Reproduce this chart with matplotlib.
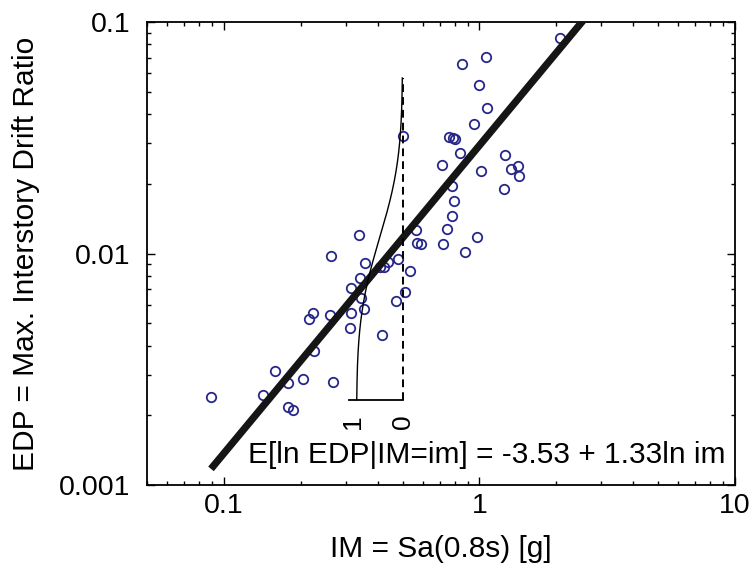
import math
import numpy as np
import matplotlib
matplotlib.use('Agg')
import matplotlib.pyplot as plt
from matplotlib.ticker import FixedLocator, FixedFormatter, LogLocator, NullFormatter

# recorded ground motions: IM (Sa in g) and EDP (max interstory drift)
im_vals = [0.0887, 0.1425, 0.159, 0.1785, 0.178, 0.186, 0.204, 0.268, 0.226, 0.2225,
           0.215, 0.26, 0.313, 0.312, 0.417, 0.262, 0.3385, 0.356, 0.408, 0.423,
           0.44, 0.478, 0.535, 0.564, 0.571, 0.588, 0.341, 0.313, 0.343, 0.353,
           0.513, 0.47, 0.5, 0.718, 0.982, 0.877, 0.744, 0.783, 0.795, 0.784,
           1.251, 1.016, 1.328, 1.419, 1.431, 1.262, 0.715, 0.839, 0.76, 0.79,
           0.802, 0.954, 1.073, 0.993, 0.854, 1.058, 2.066]
edp_vals = [0.00241, 0.00245, 0.0031, 0.00275, 0.00218, 0.00211, 0.00286, 0.00279, 0.00379, 0.00555,
            0.0052, 0.00545, 0.00553, 0.00477, 0.00444, 0.00975, 0.012, 0.0091, 0.00874, 0.00874,
            0.00919, 0.00944, 0.00843, 0.0126, 0.0111, 0.01094, 0.00781, 0.00712, 0.0064, 0.00576,
            0.0068, 0.00625, 0.0322, 0.011, 0.01175, 0.0102, 0.0128, 0.01445, 0.0169, 0.0196,
            0.0189, 0.0227, 0.0232, 0.0239, 0.0217, 0.0266, 0.0241, 0.0273, 0.032, 0.0315,
            0.0312, 0.0361, 0.0427, 0.0533, 0.0659, 0.0708, 0.0855]

# regression E[ln EDP | IM=im] = a + b ln im
reg_a = -3.53
reg_b = 1.33
reg_im_range = [0.089, 3.0]

# conditional distribution drawn at IM = 0.5
cdf_im = 0.5
cdf_beta = 0.62
cdf_edp_range = [0.00233, 0.0573]
cdf_width_dec = 0.18     # decades of IM for probability 1
cdf_base_dec = 0.21

plt.rcParams['font.family'] = ['Liberation Sans', 'DejaVu Sans']

fig = plt.figure(figsize=(7.55, 5.78), dpi=100)
ax = fig.add_axes([147 / 755, 1 - 485 / 578, 588 / 755, 463 / 578])
ax.set_xscale('log')
ax.set_yscale('log')

ax.plot(im_vals, edp_vals, 'o', mfc='none', mec='#27278a', ms=6.8, mew=1.3, zorder=2)

im_line = np.array(reg_im_range)
ax.plot(im_line, np.exp(reg_a + reg_b * np.log(im_line)), color='#151515', lw=5.2,
        solid_capstyle='butt', zorder=3)

# exceedance curve of EDP given IM = cdf_im
mu = reg_a + reg_b * math.log(cdf_im)
edp_c = np.geomspace(cdf_edp_range[0], cdf_edp_range[1], 200)
p_exc = np.array([0.5 * math.erfc((math.log(e) - mu) / (cdf_beta * math.sqrt(2))) for e in edp_c])
ax.plot(cdf_im * 10 ** (-cdf_width_dec * p_exc), edp_c, color='black', lw=1.0, zorder=4)
ax.plot([cdf_im, cdf_im], cdf_edp_range, color='black', lw=1.4, ls=(0, (4, 2.6)), zorder=4)
x_one = cdf_im * 10 ** (-cdf_base_dec)
ax.plot([x_one, cdf_im], [cdf_edp_range[0]] * 2, color='black', lw=1.3, zorder=4)
ax.text(x_one * 1.04, cdf_edp_range[0] * 0.87, '1', rotation=90, ha='center', va='top',
        fontsize=19)
ax.text(cdf_im, cdf_edp_range[0] * 0.87, '0', rotation=90, ha='center', va='top',
        fontsize=19)

ax.text(0.983, 0.065, 'E[ln EDP|IM=im] = -3.53 + 1.33ln im', transform=ax.transAxes,
        ha='right', va='center', fontsize=21.5)

ax.set_xlim(0.05, 10)
ax.set_ylim(0.001, 0.1)
ax.xaxis.set_major_locator(FixedLocator([0.1, 1, 10]))
ax.xaxis.set_major_formatter(FixedFormatter(['0.1', '1', '10']))
ax.yaxis.set_major_locator(FixedLocator([0.001, 0.01, 0.1]))
ax.yaxis.set_major_formatter(FixedFormatter(['0.001', '0.01', '0.1']))
for axis in (ax.xaxis, ax.yaxis):
    axis.set_minor_locator(LogLocator(base=10, subs=np.arange(2, 10), numticks=20))
    axis.set_minor_formatter(NullFormatter())
ax.tick_params(which='both', direction='in', top=True, right=True, width=1.0, color='black')
ax.tick_params(which='major', length=5.5, labelsize=20.5)
ax.tick_params(which='minor', length=3)
ax.tick_params(axis='x', which='major', pad=6)
ax.tick_params(axis='y', which='major', pad=12)
for s in ax.spines.values():
    s.set_linewidth(1.3)

ax.set_xlabel('IM = Sa(0.8s) [g]', fontsize=21.5, labelpad=11)
ax.set_ylabel('EDP = Max. Interstory Drift Ratio', fontsize=21.5, labelpad=14)

fig.savefig('out.png', dpi=100)
